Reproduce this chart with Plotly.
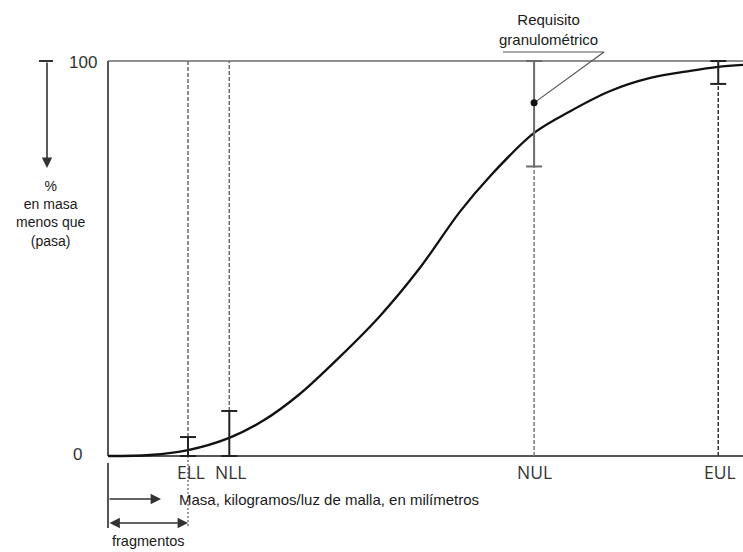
import plotly.graph_objects as go

# ---------------- data ----------------
mass = [0, 6.6, 12.6, 19.1, 24.4, 30.2, 36.5, 42.8, 49.1, 55.4, 60.2,
        67.1, 72.8, 79.1, 85.4, 91.7, 96.1, 100]
passing = [0, 0.25, 1.5, 4.6, 8.9, 15.7, 25.1, 35.4, 47.6, 61.8, 70.9,
           81.8, 87.3, 92.4, 95.7, 97.5, 98.5, 99.0]

limit_labels = ["ELL", "NLL", "NUL", "EUL"]
limit_pos = [12.6, 19.1, 67.1, 96.1]
bar_low = [0, 0, 73.3, 94.2]
bar_high = [4.8, 11.4, 100, 100]
requisito_value = 89.4
y_ticks = [0, 100]
y_tick_text = ["0", "100"]

# ---------------- layout geometry (pixel mapping) ----------------
W, H = 743, 552
X0PX, XSCALE = 108, 6.35   # pixel of x=0, px per unit
Y0PX, YSCALE = 456, 3.95   # pixel of y=0, px per unit


def px_x(p):
    return (p - X0PX) / XSCALE


def px_y(p):
    return (Y0PX - p) / YSCALE


def dx(p):
    return p / XSCALE


AX = "#555555"
TXT = "#1a1a1a"
FONT = "Liberation Sans, Arial, sans-serif"

fig = go.Figure()

# frame: left axis, bottom axis, top line
fig.add_trace(go.Scatter(x=[0, 0, None, 0, 100], y=[0, 100, None, 0, 0], mode="lines",
                         line=dict(color=AX, width=2), hoverinfo="skip", showlegend=False))
fig.add_trace(go.Scatter(x=[0, 100], y=[100, 100], mode="lines",
                         line=dict(color="#6a6a6a", width=1.5), hoverinfo="skip", showlegend=False))

# dashed guide lines
dash_colors = ["#6a6a6a", "#6a6a6a", "#7a7a7a", "#333333"]
for i, xp in enumerate(limit_pos):
    if bar_low[i] > 0:
        y0, y1 = 0, bar_low[i]
    else:
        y0, y1 = bar_high[i], 100
    fig.add_trace(go.Scatter(x=[xp, xp], y=[y0, y1], mode="lines",
                             line=dict(color=dash_colors[i], width=1.5, dash="4px,2px"),
                             hoverinfo="skip", showlegend=False))
# ELL guide continues below the axis (dotted)
fig.add_trace(go.Scatter(x=[limit_pos[0], limit_pos[0]], y=[0, px_y(528)], mode="lines",
                         line=dict(color="#6a6a6a", width=1.3, dash="2px,2px"),
                         hoverinfo="skip", showlegend=False))

# grading curve
fig.add_trace(go.Scatter(x=mass, y=passing, mode="lines",
                         line=dict(color="#111111", width=2.3, shape="spline", smoothing=0.9),
                         hoverinfo="skip", showlegend=False))

# error bars (limit ranges)
bar_colors = ["#222222", "#222222", "#6a6a6a", "#222222"]
cap = dx(8)
for i, xp in enumerate(limit_pos):
    lo, hi = bar_low[i], bar_high[i]
    fig.add_trace(go.Scatter(
        x=[xp, xp, None, xp - cap, xp + cap, None, xp - cap, xp + cap],
        y=[lo, hi, None, hi, hi, None, lo, lo],
        mode="lines", line=dict(color=bar_colors[i], width=2),
        hoverinfo="skip", showlegend=False))

# requirement point and leader
fig.add_trace(go.Scatter(x=[limit_pos[2], px_x(604), px_x(503)],
                         y=[requisito_value, px_y(52), px_y(52)], mode="lines",
                         line=dict(color="#555555", width=1.2), hoverinfo="skip", showlegend=False))
fig.add_trace(go.Scatter(x=[limit_pos[2]], y=[requisito_value], mode="markers",
                         marker=dict(color="#111111", size=7), hoverinfo="skip", showlegend=False))

annotations = []
# limit labels
label_px = [191, 230, 534, 720]
for lab, lp in zip(limit_labels, label_px):
    annotations.append(dict(x=px_x(lp), y=px_y(472), text=lab, showarrow=False,
                            font=dict(family="Open Sans, sans-serif", size=17.5, color="#333333")))
# y tick labels
tick_px = {0: (77, 454), 100: (83, 62)}
for v, t in zip(y_ticks, y_tick_text):
    xx, yy = tick_px[v]
    annotations.append(dict(x=px_x(xx), y=px_y(yy), text=t, showarrow=False,
                            font=dict(family=FONT, size=17, color="#333333")))
# y description
annotations.append(dict(x=px_x(50), y=px_y(213), text="%<br>en masa<br>menos que<br>(pasa)",
                        showarrow=False, align="center",
                        font=dict(family=FONT, size=14, color=TXT)))
# requisito label
annotations.append(dict(x=px_x(548), y=px_y(29), text="Requisito<br>granulométrico",
                        showarrow=False, align="center",
                        font=dict(family=FONT, size=15, color=TXT)))
# x description
annotations.append(dict(x=px_x(177), y=px_y(499), xanchor="left",
                        text="Masa, kilogramos/luz de malla, en milímetros", showarrow=False,
                        font=dict(family=FONT, size=15, color=TXT)))
annotations.append(dict(x=px_x(148), y=px_y(551), yanchor="bottom", text="fragmentos",
                        showarrow=False, font=dict(family=FONT, size=14.5, color=TXT)))
# arrows
annotations.append(dict(x=px_x(47), y=px_y(168), ax=px_x(47), ay=px_y(61), axref="x", ayref="y",
                        xref="x", yref="y", text="", showarrow=True, arrowhead=2,
                        arrowsize=1.3, arrowwidth=1.6, arrowcolor="#333333"))
annotations.append(dict(x=px_x(161), y=px_y(499), ax=px_x(108), ay=px_y(499), axref="x",
                        ayref="y", xref="x", yref="y", text="", showarrow=True, arrowhead=2,
                        arrowsize=1.3, arrowwidth=1.6, arrowcolor="#333333"))
annotations.append(dict(x=px_x(188), y=px_y(523), ax=px_x(108), ay=px_y(523), axref="x",
                        ayref="y", xref="x", yref="y", text="", showarrow=True, arrowhead=2,
                        startarrowhead=2, arrowside="end+start", arrowsize=1.3, startarrowsize=1.3,
                        arrowwidth=1.6, arrowcolor="#333333"))

shapes = [
    # cap of the top-left arrow
    dict(type="line", xref="x", yref="y", x0=px_x(39), x1=px_x(53), y0=px_y(61), y1=px_y(61),
         line=dict(color="#333333", width=2)),
    # left tick below axis
    dict(type="line", xref="x", yref="y", x0=0, x1=0, y0=px_y(463), y1=px_y(528),
         line=dict(color=AX, width=2)),
]

fig.update_layout(
    width=W, height=H, margin=dict(l=0, r=0, t=0, b=0),
    paper_bgcolor="white", plot_bgcolor="white",
    xaxis=dict(range=[px_x(0), px_x(W)], visible=False, fixedrange=True),
    yaxis=dict(range=[px_y(H), px_y(0)], visible=False, fixedrange=True),
    annotations=annotations, shapes=shapes, showlegend=False,
)

fig.write_html("out.html", config={"displayModeBar": False},
               post_script="document.body.style.margin='0';document.body.style.overflow='hidden';")
